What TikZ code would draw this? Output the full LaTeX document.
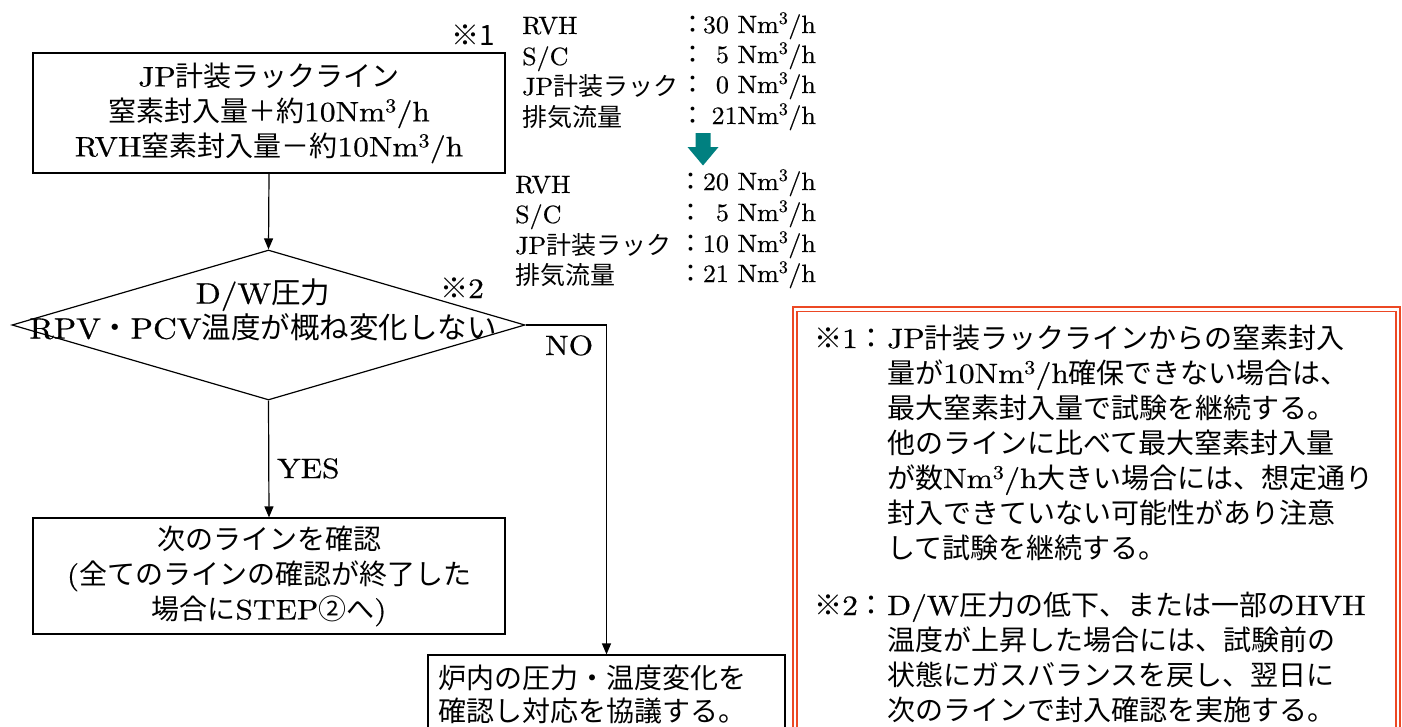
\documentclass[tikz,border=0pt]{standalone}
\usepackage{fontspec}
\newfontfamily\jpfont{Noto Sans CJK JP}
\newfontfamily\lmwide{lmroman10-regular.otf}[FakeStretch=1.12, FakeBold=0.6]
\newfontfamily\lmdata{lmroman10-regular.otf}[FakeStretch=1.04, FakeBold=0.5]
\usetikzlibrary{shapes.geometric,arrows.meta}
\newcommand\J[1]{{\jpfont #1}}
\newcommand\cubic{\textsuperscript{3}}
\definecolor{notered}{RGB}{236,72,36}
\definecolor{arrowteal}{RGB}{0,128,128}
\begin{document}
\begin{tikzpicture}[x=1pt,y=-1pt,
  box/.style={draw, line width=1.2pt, inner sep=0pt, align=center, font=\fontsize{28}{35}\lmwide},
  conn/.style={line width=1.2pt, -{Triangle[length=11pt,width=9pt]}},
  big/.style={inner sep=0pt, font=\fontsize{28}{35}\lmwide},
  data/.style={inner sep=0pt, font=\fontsize{25}{30}\lmdata},
  redframe/.style={draw=notered, line width=1.6pt}]
\useasboundingbox (0,0) rectangle (1402,726);
\clip (0,0) rectangle (1402,726);

% flow chart
\node[box, minimum width=472pt, minimum height=120pt] (b1) at (269,113)
  {JP\J{計装ラックライン}\\\J{窒素封入量＋約}10Nm\cubic/h\\RVH\J{窒素封入量－約}10Nm\cubic/h};
\node[big, anchor=base] (s1) at (473,45) {\J{※1}};

\node[diamond, draw, line width=1.2pt, minimum width=513pt, minimum height=150pt, inner sep=0pt] (dia) at (268.5,325) {};
\node[big, align=center, font=\fontsize{29.5}{35}\lmwide] (dt) at (263,310) {D/W\J{圧力}\\RPV\J{・}PCV\J{温度が概ね変化しない}};
\node[big, anchor=base] (s2) at (462,298) {\J{※}2};

\node[box, minimum width=472pt, minimum height=116pt] (b2) at (269,576)
  {\J{次のラインを確認}\\(\J{全てのラインの確認が終了した}\\\J{場合に}STEP\J{②へ})};

\node[draw, line width=1.2pt, minimum width=357pt, minimum height=115pt, inner sep=0pt] (b3) at (606.5,712.5) {};
\node[big, anchor=base west] (b3a) at (438,688) {\J{炉内の圧力・温度変化を}};
\node[big, anchor=base west] (b3b) at (438,721) {\J{確認し対応を協議する。}};

\draw[conn] (b1.south) -- (dia.north);
\draw[conn] (dia.south) -- (b2.north);
\draw[conn] (dia.east) -| (b3.north);
\node[big, anchor=base west] (yes) at (277,478) {YES};
\node[big, anchor=base west] (no) at (545,355) {NO};

% flow rates (before)
\node[data, anchor=base west] (la1) at (522,34) {RVH};
\node[data, anchor=base west] (la2) at (522,65) {S/C};
\node[data, anchor=base west] (la3) at (522,95) {JP\J{計装ラック}};
\node[data, anchor=base west] (la4) at (522,126) {\J{排気流量}};
\foreach \y [count=\i] in {33,63,93,124}{
  \node[data, anchor=base] (ca\i) at (693,\y) {\J{：}};
}
\node[data, anchor=base east] (va1) at (816,33) {30 Nm\cubic/h};
\node[data, anchor=base east] (va2) at (816,63) {5 Nm\cubic/h};
\node[data, anchor=base east] (va3) at (816,93) {0 Nm\cubic/h};
\node[data, anchor=base east] (va4) at (816,124) {21Nm\cubic/h};

\fill[arrowteal] (695.5,133) -- (710.5,133) -- (710.5,147) -- (718.5,147) -- (703,165.5) -- (687.5,147) -- (695.5,147) -- cycle;

% flow rates (after)
\node[data, anchor=base west] (lb1) at (515,193) {RVH};
\node[data, anchor=base west] (lb2) at (515,223) {S/C};
\node[data, anchor=base west] (lb3) at (515,254) {JP\J{計装ラック}};
\node[data, anchor=base west] (lb4) at (515,284) {\J{排気流量}};
\foreach \y [count=\i] in {190,221,252,282}{
  \node[data, anchor=base] (cb\i) at (691,\y) {\J{：}};
}
\node[data, anchor=base east] (vb1) at (816,190) {20 Nm\cubic/h};
\node[data, anchor=base east] (vb2) at (816,221) {5 Nm\cubic/h};
\node[data, anchor=base east] (vb3) at (816,252) {10 Nm\cubic/h};
\node[data, anchor=base east] (vb4) at (816,282) {21 Nm\cubic/h};

% notes
\draw[redframe] (793,307) rectangle (1400,760);
\draw[redframe, line width=1.1pt] (797,311.5) rectangle (1396,760);
\node[big, anchor=base west] (n1) at (814,348) {\J{※}1\J{：}};
\foreach \t [count=\i] in {JP\J{計装ラックラインからの窒素封入},
  \J{量が}10Nm\cubic/h\J{確保できない場合は、},
  \J{最大窒素封入量で試験を継続する。},
  \J{他のラインに比べて最大窒素封入量},
  \J{が数}Nm\cubic/h\J{大きい場合には、想定通り},
  \J{封入できていない可能性があり注意},
  \J{して試験を継続する。}}{
  \node[big, anchor=base west] (p\i) at (887,{348+35*(\i-1)}) {\t};
}
\node[big, anchor=base west] (n2) at (814,615) {\J{※}2\J{：}};
\foreach \t [count=\i] in {D/W\J{圧力の低下、または一部の}HVH,
  \J{温度が上昇した場合には、試験前の},
  \J{状態にガスバランスを戻し、翌日に},
  \J{次のラインで封入確認を実施する。}}{
  \node[big, anchor=base west] (q\i) at (887,{615+35*(\i-1)}) {\t};
}
\end{tikzpicture}
\end{document}
